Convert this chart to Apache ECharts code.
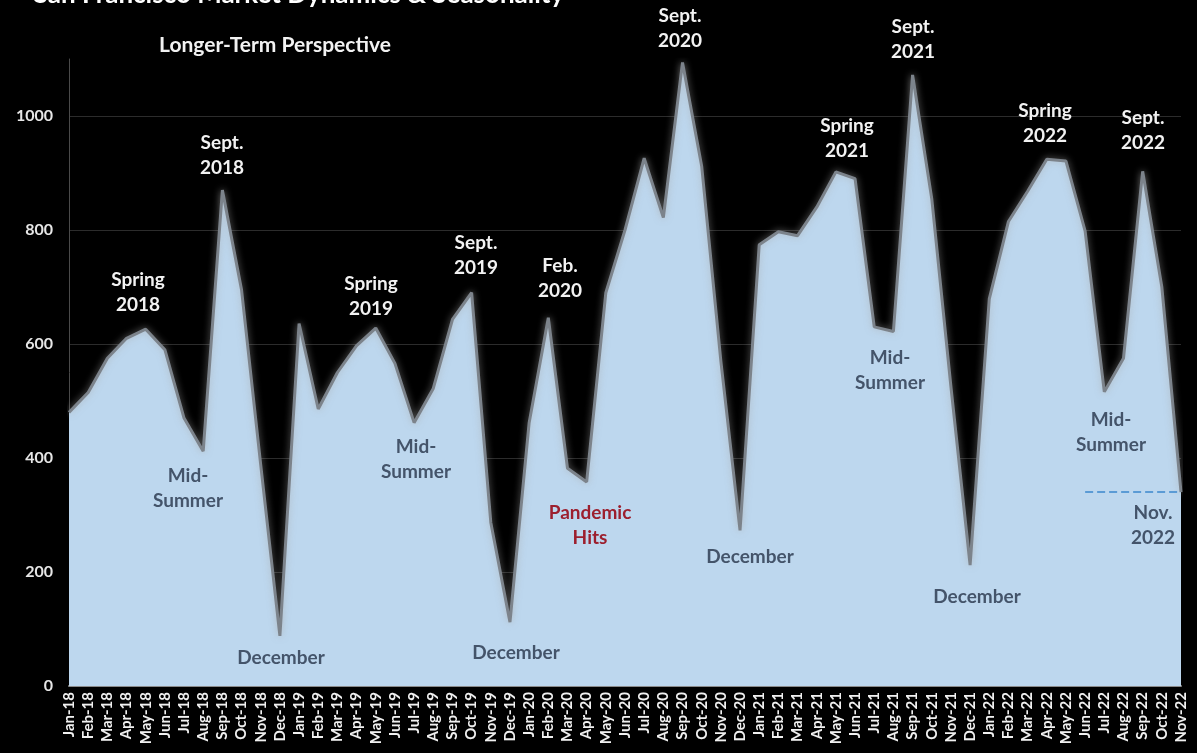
<!DOCTYPE html>
<html>
<head>
<meta charset="utf-8">
<script src="https://cdn.jsdelivr.net/npm/echarts/dist/echarts.min.js"></script>
<style>
  html, body { margin: 0; padding: 0; background: #000; }
  #chart { width: 1197px; height: 753px; }
</style>
</head>
<body>
<div id="chart"></div>
<script>
// Monthly categories, Jan 2018 through Nov 2022
const months = [
  'Jan-18','Feb-18','Mar-18','Apr-18','May-18','Jun-18','Jul-18','Aug-18','Sep-18','Oct-18','Nov-18','Dec-18',
  'Jan-19','Feb-19','Mar-19','Apr-19','May-19','Jun-19','Jul-19','Aug-19','Sep-19','Oct-19','Nov-19','Dec-19',
  'Jan-20','Feb-20','Mar-20','Apr-20','May-20','Jun-20','Jul-20','Aug-20','Sep-20','Oct-20','Nov-20','Dec-20',
  'Jan-21','Feb-21','Mar-21','Apr-21','May-21','Jun-21','Jul-21','Aug-21','Sep-21','Oct-21','Nov-21','Dec-21',
  'Jan-22','Feb-22','Mar-22','Apr-22','May-22','Jun-22','Jul-22','Aug-22','Sep-22','Oct-22','Nov-22'
];

// Monthly activity counts
const values2018 = [480, 515, 575, 610, 626, 590, 470, 412, 870, 695, 388, 88];
const values2019 = [636, 486, 550, 597, 628, 566, 462, 522, 643, 690, 287, 112];
const values2020 = [462, 646, 382, 358, 690, 800, 926, 822, 1094, 912, 570, 273];
const values2021 = [774, 797, 790, 840, 902, 890, 630, 622, 1072, 855, 525, 212];
const values2022 = [679, 815, 868, 924, 921, 798, 516, 575, 903, 700, 340];
const series = [].concat(values2018, values2019, values2020, values2021, values2022);
const latest = series[series.length - 1];

// Y-axis ticks
const yMin = 0, yMax = 1100, yStep = 200;

// Chart headings
const titleText = 'San Francisco Market Dynamics & Seasonality';
const subtitleText = 'Longer-Term Perspective';

// Seasonal call-outs: text and colour role
const noteTexts = [
  ['Spring\n2018', 'light'], ['Sept.\n2018', 'light'], ['Mid-\nSummer', 'dark'], ['December', 'dark'],
  ['Spring\n2019', 'light'], ['Mid-\nSummer', 'dark'], ['Sept.\n2019', 'light'], ['December', 'dark'],
  ['Feb.\n2020', 'light'], ['Pandemic\nHits', 'red'], ['Sept.\n2020', 'light'], ['December', 'dark'],
  ['Spring\n2021', 'light'], ['Mid-\nSummer', 'dark'], ['Sept.\n2021', 'light'], ['December', 'dark'],
  ['Spring\n2022', 'light'], ['Mid-\nSummer', 'dark'], ['Sept.\n2022', 'light'], ['Nov.\n2022', 'dark']
];
// Call-out placement (pixel centres)
const notePlaces = [
  [138, 292], [222, 155], [188, 488], [281, 658],
  [371, 296], [416, 459], [476, 255], [516, 653],
  [560, 278], [590, 525], [680, 28], [750, 557],
  [847, 138], [890, 370], [913, 39], [977, 597],
  [1045, 123], [1111, 432], [1143, 130], [1153, 525]
];

const FONT = 'Lato, "Open Sans", sans-serif';
const noteColors = { light: '#f2f2f2', dark: '#44546a', red: '#9c1f2e' };

const chart = echarts.init(document.getElementById('chart'), null, { renderer: 'canvas' });

const graphics = [
  {
    type: 'text', x: 299, y: -5, z: 100,
    style: { text: titleText, fill: '#ffffff', font: 'bold 26px ' + FONT, textAlign: 'center', textVerticalAlign: 'middle' }
  },
  {
    type: 'text', x: 275, y: 45, z: 100,
    style: { text: subtitleText, fill: '#f2f2f2', font: 'bold 21px ' + FONT, textAlign: 'center', textVerticalAlign: 'middle' }
  }
];
noteTexts.forEach(function (n, i) {
  graphics.push({
    type: 'text', x: notePlaces[i][0], y: notePlaces[i][1], z: 100,
    style: {
      text: n[0], fill: noteColors[n[1]], font: 'bold 19px ' + FONT,
      textAlign: 'center', textVerticalAlign: 'middle', lineHeight: 25
    }
  });
});

chart.setOption({
  backgroundColor: '#000000',
  animation: false,
  grid: { left: 69, right: 16, top: 59, bottom: 67 },
  xAxis: {
    type: 'category',
    data: months,
    boundaryGap: false,
    axisLine: { show: true, lineStyle: { color: '#8a8a8a', width: 2 } },
    axisTick: { show: false },
    axisLabel: {
      interval: 0, rotate: 90, margin: 6,
      color: '#f0f0f0', fontSize: 15, fontWeight: 'bold', fontFamily: FONT
    },
    splitLine: { show: false }
  },
  yAxis: {
    type: 'value',
    min: yMin, max: yMax, interval: yStep,
    axisLine: { show: true, lineStyle: { color: '#4a4a4a', width: 1 } },
    axisTick: { show: false },
    axisLabel: {
      margin: 16, color: '#e6e6e6', fontSize: 16, fontWeight: 'bold', fontFamily: FONT,
      showMaxLabel: false,
      formatter: function (v) { return v > 1000 ? '' : String(v); }
    },
    splitLine: { show: true, showMaxLine: false, lineStyle: { color: '#2c2c2c', width: 1 } }
  },
  series: [{
    type: 'line',
    data: series,
    symbol: 'none',
    smooth: false,
    lineStyle: { color: '#7c838b', width: 3, shadowColor: 'rgba(170,170,170,0.7)', shadowBlur: 7 },
    areaStyle: { color: '#bdd7ee', opacity: 1 },
    markLine: {
      silent: true,
      symbol: 'none',
      label: { show: false },
      lineStyle: { color: '#5b9bd5', type: 'dashed', width: 2 },
      data: [[{ coord: [53.4, latest] }, { coord: [58, latest] }]]
    }
  }],
  graphic: graphics
});
</script>
</body>
</html>
